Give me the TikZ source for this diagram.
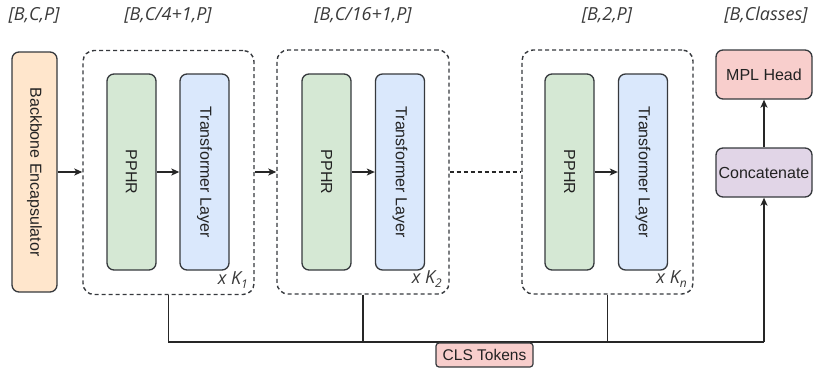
\documentclass[tikz,border=0pt]{standalone}
\usepackage{fontspec}
\setmainfont{Liberation Sans}
\newfontfamily\hdrfont{Open Sans}
\usetikzlibrary{arrows.meta}
\definecolor{strokec}{HTML}{36393D}
\definecolor{orangef}{HTML}{FFE6CC}
\definecolor{greenf}{HTML}{D5E8D4}
\definecolor{bluef}{HTML}{DAE8FC}
\definecolor{redf}{HTML}{F8CECC}
\definecolor{purplef}{HTML}{E1D5E7}
\definecolor{hdrc}{HTML}{3A3A3A}
\definecolor{txtc}{HTML}{222222}
\tikzset{
  blk/.style={draw=strokec, line width=1.35pt, rounded corners=7pt, inner sep=0pt, minimum width=49pt, minimum height=196pt},
  grp/.style={draw=strokec, line width=1.4pt, dash pattern=on 4pt off 3pt, rounded corners=11pt, inner sep=0pt, minimum height=244pt},
  vtxt/.style={rotate=-90, text=txtc, font=\fontsize{16}{19}\selectfont, inner sep=0pt},
  btxt/.style={text=txtc, font=\fontsize{16}{19}\selectfont},
  hdr/.style={text=hdrc, font=\hdrfont\itshape\fontsize{18}{21}\selectfont, inner sep=0pt},
  rep/.style={text=hdrc, font=\hdrfont\itshape\fontsize{18}{21}\selectfont, inner sep=0pt, anchor=south east},
  conn/.style={draw=black!85, line width=1.3pt},
  arr/.style={conn, -{Stealth[length=8pt,width=7pt,inset=2pt]}}
}
\begin{document}
\begin{tikzpicture}[x=1pt,y=-1pt]
\useasboundingbox (0,0) rectangle (813,372);
% headers
\node[hdr] (h0) at (34,15) {[B,C,P]};
\node[hdr] (h1) at (168,15) {[B,C/4+1,P]};
\node[hdr] (h2) at (363,15) {[B,C/16+1,P]};
\node[hdr] (h3) at (607,15) {[B,2,P]};
\node[hdr] (h4) at (766,15) {[B,Classes]};
% backbone
\node[blk, fill=orangef, minimum width=45pt, minimum height=240pt] (bb) at (34.5,172) {};
\node[vtxt] (bbt) at (bb.center) {Backbone Encapsulator};
% groups
\node[grp, minimum width=171pt] (g1) at (168.5,172.5) {};
\node[grp, minimum width=172pt] (g2) at (363,172) {};
\node[grp, minimum width=171pt] (g3) at (607.5,172) {};
% inner blocks
\node[blk, fill=greenf] (p1) at (131.5,172) {};
\node[blk, fill=bluef] (t1) at (204.5,172) {};
\node[blk, fill=greenf] (p2) at (326.5,172) {};
\node[blk, fill=bluef] (t2) at (400,172) {};
\node[blk, fill=greenf] (p3) at (569.5,172) {};
\node[blk, fill=bluef] (t3) at (643,172) {};
\foreach \i in {1,2,3}{
  \node[vtxt] (p\i t) at (p\i.center) {PPHR};
  \node[vtxt] (t\i t) at (t\i.center) {Transformer Layer};
  \draw[arr] (p\i.east) -- (t\i.west);
}
% repeat labels
\node[rep] (r1) at (248,289) {x K\raisebox{-0.4ex}{\fontsize{12}{12}\selectfont 1}};
\node[rep] (r2) at (442,288) {x K\raisebox{-0.4ex}{\fontsize{12}{12}\selectfont 2}};
\node[rep] (r3) at (687,288) {x K\raisebox{-0.4ex}{\fontsize{12}{12}\selectfont n}};
% head
\node[blk, fill=redf, minimum width=96pt, minimum height=49pt, btxt] (mpl) at (764,74.5) {MPL Head};
\node[blk, fill=purplef, minimum width=96pt, minimum height=49pt, btxt] (cat) at (764,172.5) {Concatenate};
% main flow
\draw[arr] (bb.east) -- (bb.east -| g1.west);
\draw[arr] (g1.east |- bb.east) -- (g2.west |- bb.east);
\draw[conn, dash pattern=on 4pt off 3pt] (g2.east |- bb.east) -- (g3.west |- bb.east);
\draw[arr] (cat.north) -- (mpl.north |- mpl.south);
% bus
\coordinate (busy) at (0,342);
\draw[conn] (g1.south) -- (g1.south |- busy) -- (cat.south |- busy);
\draw[arr] (cat.south |- busy) -- (cat.south);
\draw[conn] (g2.south) -- (g2.south |- busy);
\draw[conn] (g3.south) -- (g3.south |- busy);
\node[draw=strokec, line width=1.2pt, fill=redf, rounded corners=3pt, minimum width=97pt, minimum height=24pt, inner sep=0pt, btxt, font=\fontsize{15.5}{18}\selectfont] (cls) at (484.5,355) {CLS Tokens};
\end{tikzpicture}
\end{document}
